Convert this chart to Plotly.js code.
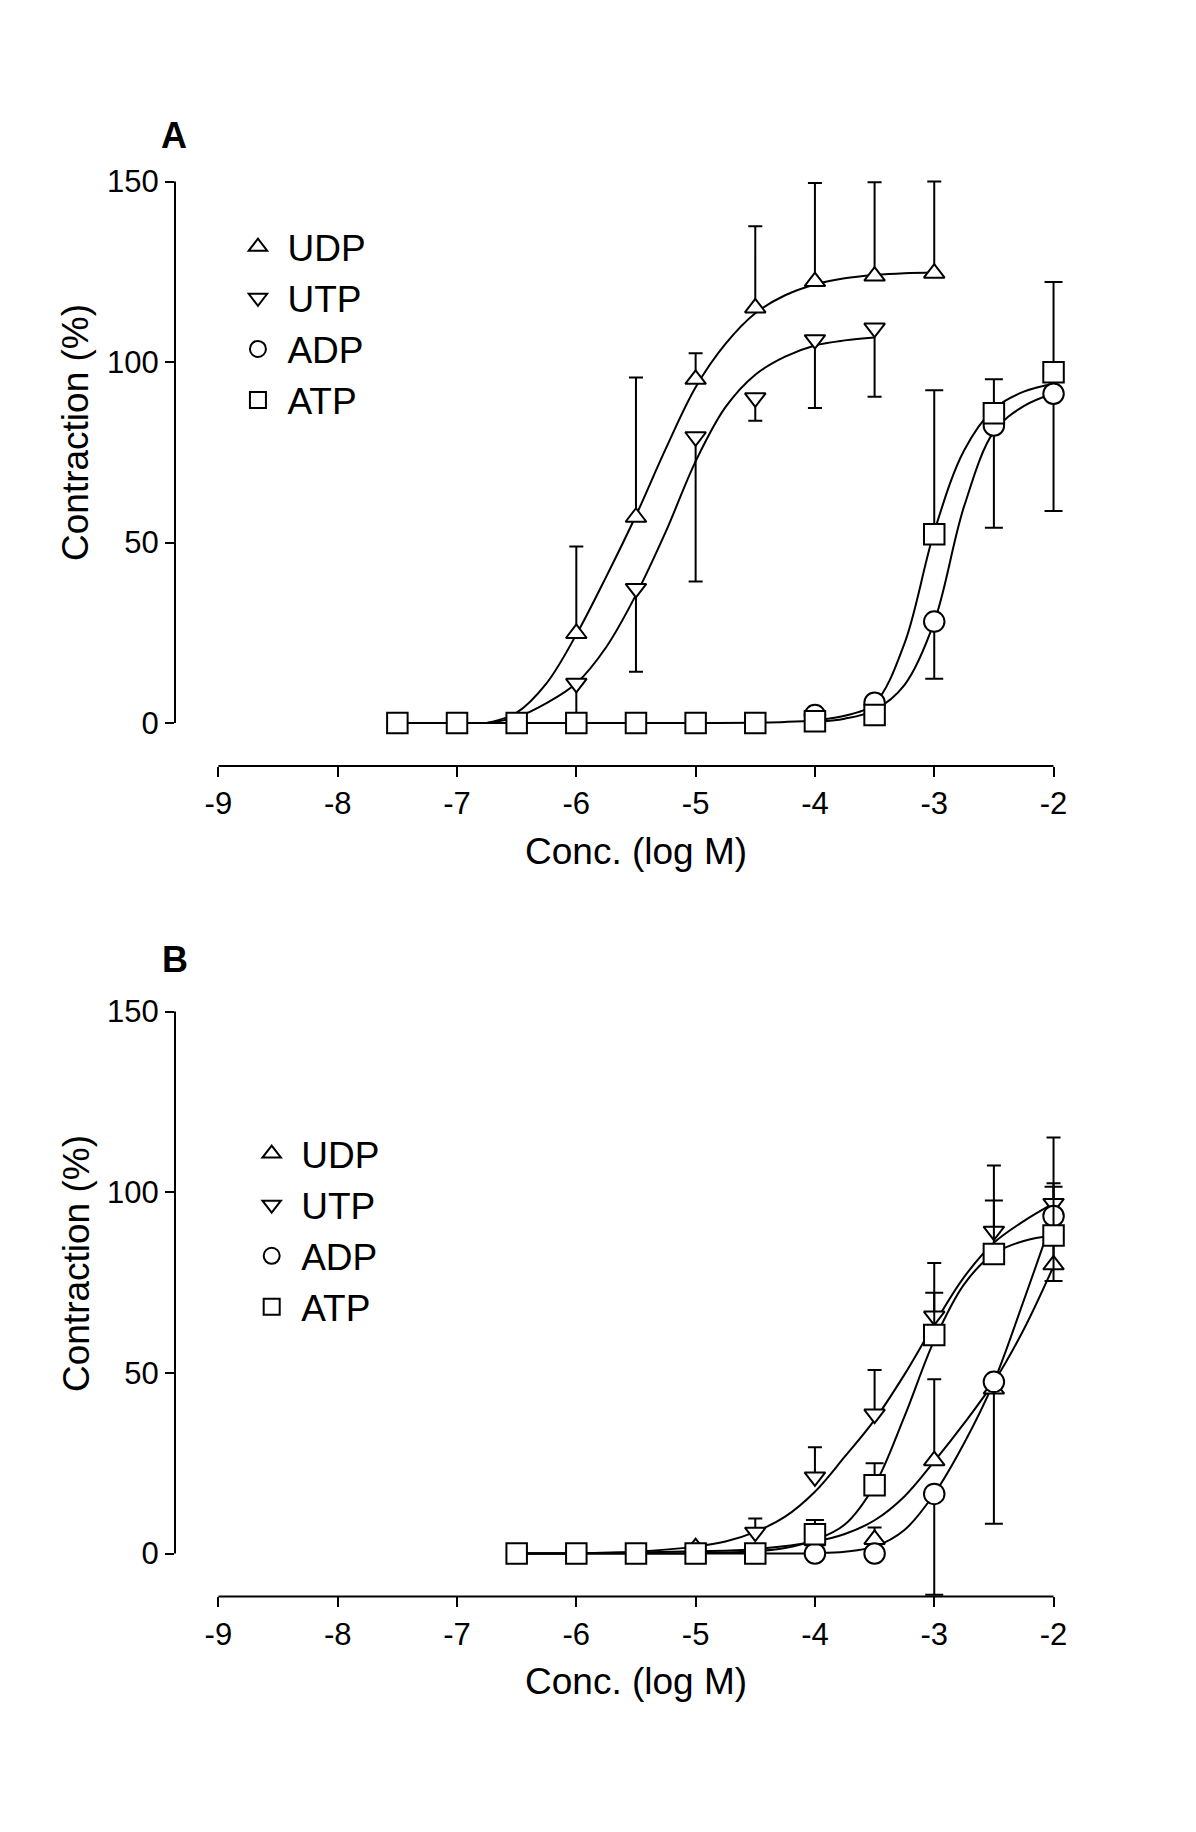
<!DOCTYPE html>
<html>
<head>
<meta charset="utf-8">
<script src="https://cdn.plot.ly/plotly-3.0.1.min.js"></script>
<style>
  html, body { margin: 0; padding: 0; background: #ffffff; }
  #chart { width: 1196px; height: 1832px; }
</style>
</head>
<body>
<div id="chart"></div>
<script>
// ---------- axis ticks ----------
const xTicks = [-9, -8, -7, -6, -5, -4, -3, -2];
const yTicks = [0, 50, 100, 150];
const seriesNames = ['UDP', 'UTP', 'ADP', 'ATP'];

// ---------- Panel A : measured points (mean, one-sided SEM) ----------
const A_UDP_x = [-6, -5.5, -5, -4.5, -4, -3.5, -3];
const A_UDP_y = [24.8, 57, 95.2, 115, 122.3, 123.8, 124.6];
const A_UDP_errUp = [24.1, 38.7, 7.2, 22.6, 27.3, 26, 25.4];

const A_UTP_x = [-6, -5.5, -5, -4.5, -4, -3.5];
const A_UTP_y = [11, 37.3, 79.3, 90.1, 106.2, 109.4];
const A_UTP_errDown = [11, 23.1, 40.1, 6.4, 18.9, 19];

const A_ADP_x = [-4, -3.5, -3, -2.5, -2];
const A_ADP_y = [2.2, 5.6, 28.1, 82.4, 91.2];
const A_ADP_errDown = [0, 0, 15.8, 28.3, 32.5];

const A_ATP_x = [-7.5, -7, -6.5, -6, -5.5, -5, -4.5, -4, -3.5, -3, -2.5, -2];
const A_ATP_y = [0, 0, 0, 0, 0, 0, 0, 0.5, 2.2, 52.3, 85.8, 97.2];
const A_ATP_errUp = [0, 0, 0, 0, 0, 0, 0, 0, 0, 39.9, 9.4, 25];

// ---------- Panel A : fitted curves ----------
const A_UDP_fitX = [-6.75, -6.5, -6.25, -6, -5.75, -5.5, -5.25, -5, -4.75, -4.5, -4.25, -4, -3.75, -3.5, -3.25, -3];
const A_UDP_fitY = [0, 2.9, 11, 24.5, 40.5, 57.5, 76, 93, 105, 113.5, 118.5, 121.5, 123.2, 124.1, 124.6, 124.8];

const A_UTP_fitX = [-6.75, -6.5, -6.25, -6, -5.75, -5.5, -5.25, -5, -4.75, -4.5, -4.25, -4, -3.75, -3.5];
const A_UTP_fitY = [0, 1.6, 5.5, 11, 21, 35.5, 53, 72.5, 87.5, 96.5, 101.5, 104.6, 106, 106.8];

const A_ADP_fitX = [-4, -3.75, -3.5, -3.25, -3, -2.75, -2.5, -2.25, -2];
const A_ADP_fitY = [0.3, 1.2, 3.6, 10.5, 28, 60, 80.7, 87.8, 91.3];

const A_ATP_fitX = [-7.5, -7, -6.5, -6, -5.5, -5, -4.5, -4.25, -4, -3.75, -3.5, -3.25, -3, -2.75, -2.5, -2.25, -2];
const A_ATP_fitY = [0, 0, 0, 0, 0, 0, 0.1, 0.3, 0.8, 2, 5.5, 22, 53, 75.5, 87, 91.8, 94];

// ---------- Panel B : measured points ----------
const B_UDP_x = [-5, -4.5, -4, -3.5, -3, -2.5, -2];
const B_UDP_y = [1.6, 0.3, 3.5, 3.9, 25.7, 45.5, 79.9];
const B_UDP_errUp = [0, 0, 0, 3.3, 22.5, 0, 22.6];

const B_UTP_x = [-4.5, -4, -3.5, -3, -2.5, -2];
const B_UTP_y = [5.9, 21.2, 38.6, 65.7, 89.2, 96.9];
const B_UTP_errUp = [3.8, 8.2, 12.2, 14.7, 18.2, 18.2];

const B_ADP_x = [-4, -3.5, -3, -2.5, -2];
const B_ADP_y = [0, 0, 16.5, 47.5, 93.4];
const B_ADP_errDown = [0, 0, 27.9, 39.3, 18];

const B_ATP_x = [-6.5, -6, -5.5, -5, -4.5, -4, -3.5, -3, -2.5, -2];
const B_ATP_y = [0, 0, 0, 0, 0, 5.3, 18.9, 60.5, 82.9, 88];
const B_ATP_errUp = [0, 0, 0, 0, 0, 4, 6.1, 11.7, 14.8, 13.5];

// ---------- Panel B : fitted curves ----------
const B_UDP_fitX = [-6.5, -6, -5.5, -5, -4.5, -4, -3.75, -3.5, -3.25, -3, -2.75, -2.5, -2.25, -2];
const B_UDP_fitY = [0, 0.1, 0.3, 0.6, 1.2, 3.3, 5.4, 9.2, 15.8, 25.5, 36, 47.5, 62, 79.5];

const B_UTP_fitX = [-6.5, -6, -5.5, -5, -4.75, -4.5, -4.25, -4, -3.75, -3.5, -3.25, -3, -2.75, -2.5, -2.25, -2];
const B_UTP_fitY = [0, 0.1, 0.5, 1.9, 3.3, 6, 10.2, 17.1, 26.8, 37, 49.5, 63.5, 76.5, 86, 92, 96.9];

const B_ADP_fitX = [-6.5, -5, -4.5, -4, -3.75, -3.5, -3.25, -3, -2.75, -2.5, -2.25, -2];
const B_ADP_fitY = [0, 0, 0, 0.1, 0.5, 1.9, 6.5, 16.5, 30.5, 47.5, 70, 93.5];

const B_ATP_fitX = [-6.5, -6, -5.5, -5, -4.5, -4.25, -4, -3.75, -3.5, -3.25, -3, -2.75, -2.5, -2.25, -2];
const B_ATP_fitY = [0, 0, 0, 0.1, 0.6, 1.5, 3.7, 8, 18.9, 37.9, 59, 74.5, 83, 86.5, 88];

// ---------- styling ----------
const FONT = 'Liberation Sans, Arial, Helvetica, sans-serif';
const INK = '#000000';

function zeros(arr) { return arr.map(function () { return 0; }); }

function curve(x, y, xa, ya) {
  return {
    type: 'scatter', mode: 'lines', x: x, y: y, xaxis: xa, yaxis: ya,
    line: { color: INK, width: 2, shape: 'spline', smoothing: 1 },
    showlegend: false, hoverinfo: 'skip'
  };
}

function points(name, x, y, up, down, xa, ya, legend) {
  const tri = (name === 'UDP' || name === 'UTP');
  const sym = { UDP: 'triangle-up', UTP: 'triangle-down', ADP: 'circle', ATP: 'square' }[name];
  return {
    type: 'scatter', mode: 'markers', name: name, x: x, y: y,
    xaxis: xa, yaxis: ya, legend: legend, cliponaxis: false,
    marker: { symbol: sym, size: tri ? 18 : 20.5, color: '#ffffff',
              line: { color: INK, width: 2 } },
    error_y: { type: 'data', symmetric: false, array: up, arrayminus: down,
               color: INK, thickness: 2, width: tri ? 7 : 9 }
  };
}

const data = [
  curve(A_UDP_fitX, A_UDP_fitY, 'x', 'y'),
  curve(A_UTP_fitX, A_UTP_fitY, 'x', 'y'),
  curve(A_ADP_fitX, A_ADP_fitY, 'x', 'y'),
  curve(A_ATP_fitX, A_ATP_fitY, 'x', 'y'),
  curve(B_UDP_fitX, B_UDP_fitY, 'x2', 'y2'),
  curve(B_UTP_fitX, B_UTP_fitY, 'x2', 'y2'),
  curve(B_ADP_fitX, B_ADP_fitY, 'x2', 'y2'),
  curve(B_ATP_fitX, B_ATP_fitY, 'x2', 'y2'),
  points(seriesNames[0], A_UDP_x, A_UDP_y, A_UDP_errUp, zeros(A_UDP_x), 'x', 'y', 'legend'),
  points(seriesNames[1], A_UTP_x, A_UTP_y, zeros(A_UTP_x), A_UTP_errDown, 'x', 'y', 'legend'),
  points(seriesNames[2], A_ADP_x, A_ADP_y, zeros(A_ADP_x), A_ADP_errDown, 'x', 'y', 'legend'),
  points(seriesNames[3], A_ATP_x, A_ATP_y, A_ATP_errUp, zeros(A_ATP_x), 'x', 'y', 'legend'),
  points(seriesNames[0], B_UDP_x, B_UDP_y, B_UDP_errUp, zeros(B_UDP_x), 'x2', 'y2', 'legend2'),
  points(seriesNames[1], B_UTP_x, B_UTP_y, B_UTP_errUp, zeros(B_UTP_x), 'x2', 'y2', 'legend2'),
  points(seriesNames[2], B_ADP_x, B_ADP_y, zeros(B_ADP_x), B_ADP_errDown, 'x2', 'y2', 'legend2'),
  points(seriesNames[3], B_ATP_x, B_ATP_y, B_ATP_errUp, zeros(B_ATP_x), 'x2', 'y2', 'legend2')
];

const tickFont = { family: FONT, size: 31, color: INK };
function xAxis(anchor) {
  return {
    domain: [0.14632, 0.90084], range: [-9.3638, -1.8], anchor: anchor,
    tickmode: 'array', tickvals: xTicks, ticktext: xTicks.map(String),
    ticks: 'outside', ticklen: 10, tickwidth: 2, tickcolor: INK,
    showline: false, showgrid: false, zeroline: false,
    tickfont: tickFont, fixedrange: true
  };
}
function yAxis(anchor, domain) {
  return {
    domain: domain, range: [-11.9, 152], anchor: anchor,
    tickmode: 'array', tickvals: yTicks, ticktext: yTicks.map(String),
    ticks: 'outside', ticklen: 9, tickwidth: 2, tickcolor: INK,
    showline: false, showgrid: false, zeroline: false,
    tickfont: tickFont, fixedrange: true
  };
}

function axisLines(xr, yr) {
  return [
    { type: 'line', xref: xr + ' domain', x0: 0, x1: 0, yref: yr, y0: yTicks[0], y1: yTicks[yTicks.length - 1],
      line: { color: INK, width: 2 } },
    { type: 'line', xref: xr, x0: xTicks[0], x1: xTicks[xTicks.length - 1], yref: yr + ' domain', y0: 0, y1: 0,
      line: { color: INK, width: 2 } }
  ];
}

const titleFont = { family: FONT, size: 37, color: INK };
function ann(text, x, y, font, angle) {
  return { text: text, x: x, y: y, xref: 'paper', yref: 'paper', showarrow: false,
           xanchor: 'center', yanchor: 'middle', font: font, textangle: angle || 0 };
}

const legendFont = { family: FONT, size: 37, color: INK };
const layout = {
  width: 1196, height: 1832, autosize: false,
  margin: { l: 0, r: 0, t: 0, b: 0, pad: 0 },
  paper_bgcolor: '#ffffff', plot_bgcolor: 'rgba(0,0,0,0)',
  font: { family: FONT, color: INK },
  xaxis: xAxis('y'),
  yaxis: yAxis('x', [0.58188, 0.90485]),
  xaxis2: xAxis('y2'),
  yaxis2: yAxis('x2', [0.12855, 0.45180]),
  shapes: axisLines('x', 'y').concat(axisLines('x2', 'y2')),
  legend: { x: 0.1910, y: 0.8820, xanchor: 'left', yanchor: 'top', font: legendFont,
            bgcolor: 'rgba(0,0,0,0)', borderwidth: 0, itemsizing: 'trace', itemwidth: 49,
            tracegroupgap: 0 },
  legend2: { x: 0.2025, y: 0.3870, xanchor: 'left', yanchor: 'top', font: legendFont,
             bgcolor: 'rgba(0,0,0,0)', borderwidth: 0, itemsizing: 'trace', itemwidth: 49,
             tracegroupgap: 0 },
  annotations: [
    ann('<b>A</b>', 0.14548, 0.92600, { family: FONT, size: 36, color: INK }),
    ann('<b>B</b>', 0.14632, 0.47600, { family: FONT, size: 36, color: INK }),
    ann('Contraction (%)', 0.06355, 0.76365, titleFont, -90),
    ann('Contraction (%)', 0.06355, 0.31004, titleFont, -90),
    ann('Conc. (log M)', 0.53177, 0.53548, titleFont),
    ann('Conc. (log M)', 0.53177, 0.08188, titleFont)
  ],
  showlegend: true,
  hovermode: false
};

Plotly.newPlot('chart', data, layout, { displayModeBar: false, staticPlot: true });
</script>
</body>
</html>
